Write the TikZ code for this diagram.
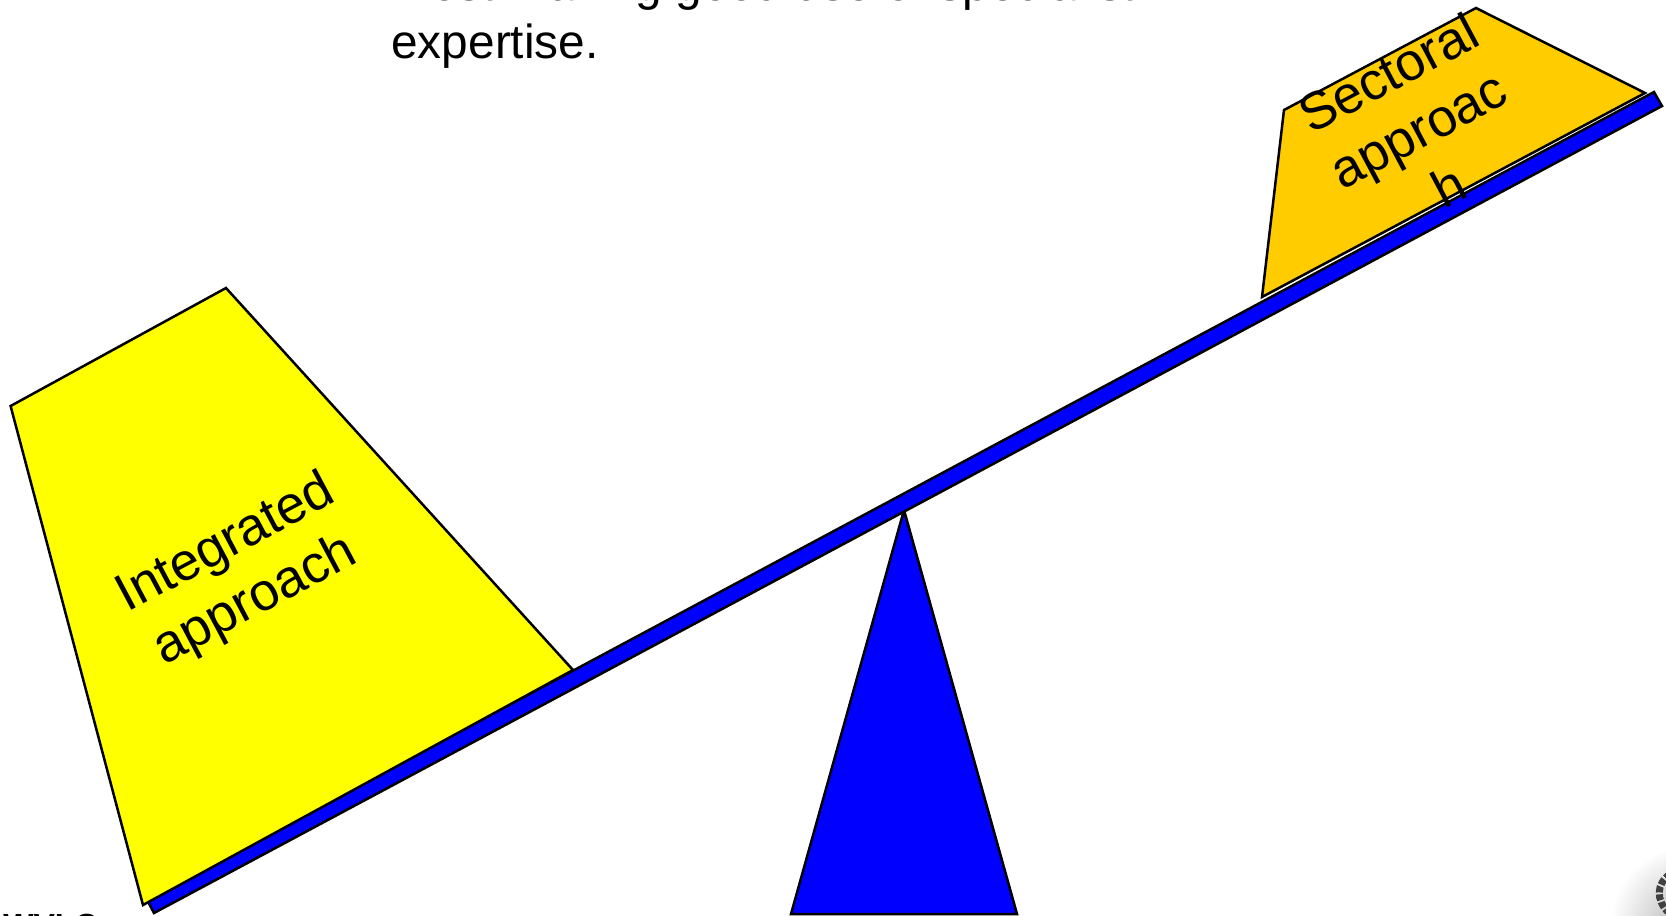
\documentclass[tikz,border=0pt]{standalone}
\usepackage{fontspec}
\setmainfont{Liberation Sans}
\usetikzlibrary{positioning}
\definecolor{panyellow}{HTML}{FFFF00}
\definecolor{panorange}{HTML}{FFCC00}
\definecolor{beamblue}{HTML}{0000FF}
\tikzset{
  part/.style={draw=black, line width=1.25pt, line join=miter},
  bodytext/.style={anchor=base west, inner sep=0pt, font=\fontsize{23.9}{28}\selectfont},
  pantext/.style={align=center, rotate=28, inner sep=0pt}
}

\begin{document}
\begin{tikzpicture}[x=0.5pt, y=-0.5pt]
  \clip (0,0) rectangle (1666,916);
  \fill[white] (0,0) rectangle (1666,916);
  % corner of the logo
  \shade[inner color=black!30, outer color=white] (1690,925) circle (80);
  \draw[black!75, line width=3.5pt, dash pattern=on 3pt off 1pt] (1670,874) .. controls (1656,884) and (1656,900) .. (1668,912);
  \node[bodytext] (line1) at (391,0) {most making good use of specialist};
  \node[bodytext] (line2) at (391,58) {expertise.};
  \node[anchor=base west, inner sep=0pt, font=\fontsize{16}{19}\bfseries\selectfont] (footer) at (3,936) {WVLC};
  \draw[part, fill=beamblue] (791,914) -- (904,510) -- (1017,914) -- cycle;
  \draw[part, fill=beamblue] (146.5,899) -- (1654,92) -- (1662,106) -- (154,913) -- cycle;
  \draw[part, fill=panyellow] (10.6,406) -- (226,288) -- (573,670) -- (143,905) -- cycle;
  \draw[part, fill=panorange] (1284,110) -- (1476,8) -- (1645,93) -- (1262,297) -- cycle;
  \node[pantext, font=\fontsize{26.5}{32}\selectfont] (integrated) at (241,573) {Integrated\\approach};
  \node[pantext, font=\fontsize{26.4}{32}\selectfont] (sectoral) at (1418,129) {Sectoral\\approac\\h};
\end{tikzpicture}
\end{document}
